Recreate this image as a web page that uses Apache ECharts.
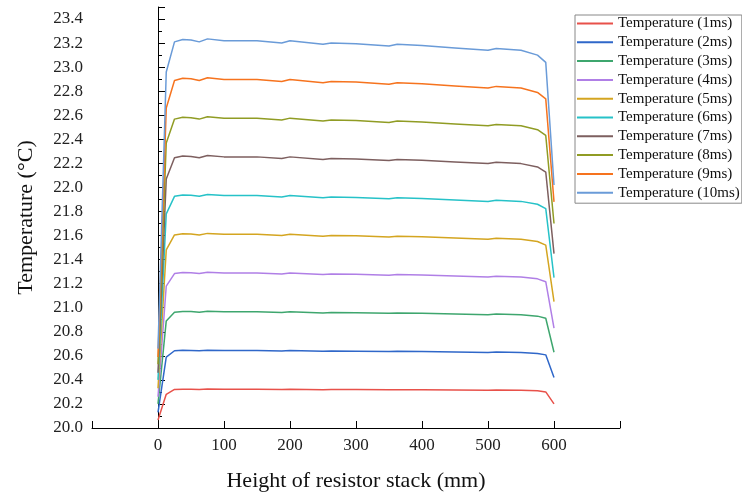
<!DOCTYPE html>
<html>
<head>
<meta charset="utf-8">
<script src="https://cdn.jsdelivr.net/npm/echarts@6/dist/echarts.min.js"></script>
<style>
  html, body { margin: 0; padding: 0; background: #fff; }
  #ChartMain { width: 742px; height: 497px; }
</style>
</head>
<body>
<div id="ChartMain"></div>
<script type="text/javascript">
// height of resistor stack (mm)
var heights = [0, 12.5, 25, 37.5, 50, 62.5, 75, 100, 150, 187.5, 200, 250, 262.5, 300, 350, 362.5, 400, 450, 500, 512.5, 550, 575, 587.5, 600];

var t1ms  = [20.066, 20.28, 20.321, 20.323, 20.322, 20.321, 20.324, 20.322, 20.322, 20.320, 20.322, 20.319, 20.320, 20.320, 20.318, 20.319, 20.318, 20.316, 20.314, 20.316, 20.314, 20.310, 20.300, 20.20];
var t2ms  = [20.13, 20.59, 20.642, 20.646, 20.645, 20.642, 20.647, 20.644, 20.644, 20.640, 20.644, 20.638, 20.640, 20.639, 20.635, 20.638, 20.636, 20.632, 20.628, 20.631, 20.628, 20.620, 20.608, 20.42];
var t3ms  = [20.20, 20.89, 20.963, 20.969, 20.968, 20.963, 20.971, 20.966, 20.966, 20.960, 20.966, 20.957, 20.960, 20.959, 20.953, 20.957, 20.954, 20.948, 20.942, 20.947, 20.942, 20.930, 20.912, 20.63];
var t4ms  = [20.26, 21.18, 21.284, 21.292, 21.290, 21.284, 21.294, 21.288, 21.288, 21.280, 21.288, 21.276, 21.280, 21.278, 21.270, 21.276, 21.272, 21.264, 21.256, 21.262, 21.256, 21.240, 21.216, 20.83];
var t5ms  = [20.33, 21.48, 21.605, 21.615, 21.613, 21.605, 21.618, 21.610, 21.610, 21.600, 21.610, 21.595, 21.600, 21.598, 21.588, 21.595, 21.590, 21.580, 21.570, 21.578, 21.570, 21.550, 21.520, 21.05];
var t6ms  = [20.40, 21.78, 21.926, 21.938, 21.935, 21.926, 21.941, 21.932, 21.932, 21.920, 21.932, 21.914, 21.920, 21.917, 21.905, 21.914, 21.908, 21.896, 21.884, 21.893, 21.884, 21.860, 21.824, 21.25];
var t7ms  = [20.46, 22.07, 22.247, 22.261, 22.258, 22.247, 22.265, 22.254, 22.254, 22.240, 22.254, 22.233, 22.240, 22.237, 22.223, 22.233, 22.226, 22.212, 22.198, 22.209, 22.198, 22.170, 22.128, 21.45];
var t8ms  = [20.53, 22.37, 22.568, 22.584, 22.580, 22.568, 22.588, 22.576, 22.576, 22.560, 22.576, 22.552, 22.560, 22.556, 22.540, 22.552, 22.544, 22.528, 22.512, 22.524, 22.512, 22.480, 22.432, 21.70];
var t9ms  = [20.59, 22.66, 22.889, 22.907, 22.903, 22.889, 22.912, 22.898, 22.898, 22.880, 22.898, 22.871, 22.880, 22.876, 22.858, 22.871, 22.862, 22.844, 22.826, 22.840, 22.826, 22.790, 22.736, 21.88];
var t10ms = [20.66, 22.96, 23.21, 23.23, 23.225, 23.21, 23.235, 23.22, 23.22, 23.20, 23.22, 23.19, 23.20, 23.195, 23.175, 23.19, 23.18, 23.16, 23.14, 23.155, 23.14, 23.10, 23.04, 22.02];

var names = ['Temperature (1ms)', 'Temperature (2ms)', 'Temperature (3ms)', 'Temperature (4ms)', 'Temperature (5ms)',
             'Temperature (6ms)', 'Temperature (7ms)', 'Temperature (8ms)', 'Temperature (9ms)', 'Temperature (10ms)'];
var temps = [t1ms, t2ms, t3ms, t4ms, t5ms, t6ms, t7ms, t8ms, t9ms, t10ms];
var xTickLabels = [0, 100, 200, 300, 400, 500, 600];

var colors = ['#e8514a', '#2f67c9', '#3ea66e', '#b07fe6', '#d4a520', '#26c2c8', '#7d5f5f', '#909c24', '#f6731e', '#6a9bd8'];
var serif = 'Liberation Serif';

var series = names.map(function (n, i) {
    return {
        name: n,
        type: 'line',
        symbol: 'none',
        lineStyle: { width: 1.5 },
        data: heights.map(function (h, j) { return [h, temps[i][j]]; })
    };
});

var myChart = echarts.init(document.getElementById('ChartMain'));
var option = {
    animation: false,
    color: colors,
    grid: { left: 92, right: 122, top: 7, bottom: 64 },
    legend: {
        orient: 'vertical',
        left: 575, top: 15,
        padding: [1, 2, 3, 2],
        itemWidth: 36, itemHeight: 2, itemGap: 3.8,
        icon: 'rect',
        borderColor: '#888', borderWidth: 1,
        textStyle: { fontFamily: serif, fontSize: 15, lineHeight: 15, color: '#111' },
        data: names
    },
    xAxis: [{
        type: 'value',
        min: -100, max: 700, interval: 100,
        name: 'Height of resistor stack (mm)',
        nameLocation: 'middle', nameGap: 42,
        nameTextStyle: { fontFamily: serif, fontSize: 22, color: '#111' },
        splitLine: { show: false },
        axisLine: { onZero: false, lineStyle: { color: '#000', width: 1 } },
        axisTick: {
            inside: true, length: 7, lineStyle: { color: '#000' },
            interval: function (i, v) { return v % 200 === 0 && v >= 0 && v <= 600; }
        },
        axisLabel: {
            fontFamily: serif, fontSize: 17, color: '#222', margin: 9,
            formatter: function (v) { return xTickLabels.indexOf(v) >= 0 ? String(v) : ''; }
        }
    }, {
        type: 'value',
        position: 'bottom',
        min: -100, max: 700, interval: 100,
        axisLine: { show: false },
        splitLine: { show: false },
        axisLabel: { show: false },
        axisTick: {
            inside: true, length: 4, lineStyle: { color: '#000' },
            interval: function (i, v) { return v >= 100 && v <= 500 && v % 200 !== 0; }
        }
    }],
    yAxis: {
        type: 'value',
        min: 20, max: 23.5, interval: 0.2,
        name: 'Temperature (°C)',
        nameLocation: 'middle', nameGap: 55,
        nameTextStyle: { fontFamily: serif, fontSize: 22, color: '#111' },
        splitLine: { show: false },
        axisLine: { show: true, lineStyle: { color: '#000', width: 1 } },
        axisTick: { inside: true, length: 7, lineStyle: { color: '#000' } },
        minorTick: { show: true, splitNumber: 2, length: 4, lineStyle: { color: '#000' } },
        axisLabel: {
            fontFamily: serif, fontSize: 17, color: '#222', margin: 9,
            showMaxLabel: false,
            formatter: function (v) { return v.toFixed(1); }
        }
    },
    series: series
};
myChart.setOption(option);
</script>
</body>
</html>
